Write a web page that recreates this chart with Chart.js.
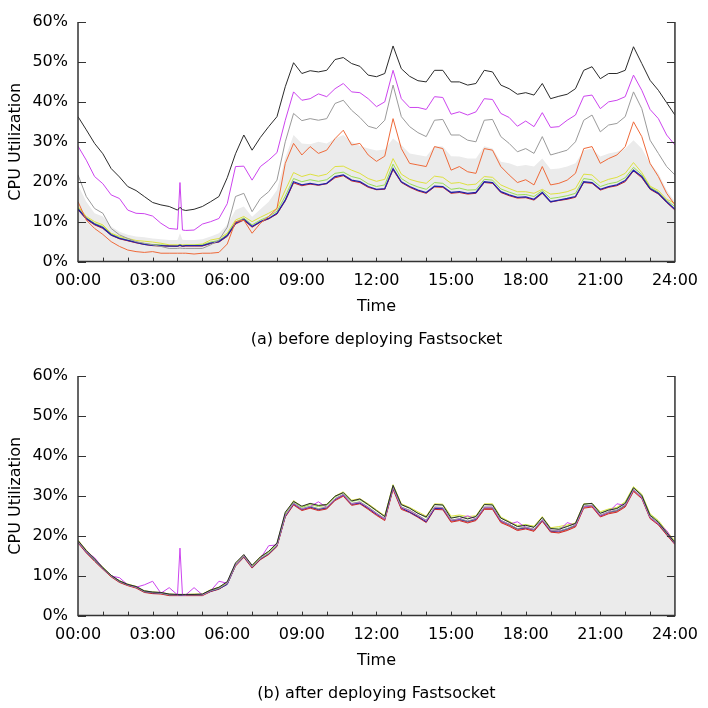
<!DOCTYPE html>
<html>
<head>
<meta charset="utf-8">
<script src="https://cdn.jsdelivr.net/npm/chart.js@4"></script>
<style>
  html, body { margin: 0; padding: 0; background: #fff; overflow: hidden; }
  canvas { display: block; }
</style>
</head>
<body>
<canvas id="chartA" width="708" height="354"></canvas>
<canvas id="chartB" width="708" height="354"></canvas>
<script>
/* time of day in minutes (20 min samples, extra samples around 04:06) */
const times = [0,20,40,60,80,100,120,140,160,180,200,220,240,246,252,260,280,300,320,340,360,380,400,420,440,460,480,500,520,540,560,580,600,620,640,660,680,700,720,740,760,780,800,820,840,860,880,900,920,940,960,980,1000,1020,1040,1060,1080,1100,1120,1140,1160,1180,1200,1220,1240,1260,1280,1300,1320,1340,1360,1380,1400,1420,1440];
const yTicks = [0, 10, 20, 30, 40, 50, 60];

/* (a) before deploying Fastsocket, CPU % per core */
const aFill = [19.2,15.0,12.1, 11.3,8.8,7.5, 6.7,6.3,6.1, 5.8,5.6,5.4, 5.4, 7.1,5.5, 5.4,5.4, 5.6,6.3,7.1, 9.2,12.9,13.8, 11.2,13.1,15.0, 17.9,26.0,31.7, 29.6,29.4,30.0, 29.6,30.8,31.7, 30.0,29.0,28.3, 27.8,28.1,30.8, 29.2,27.1,26.7, 26.3,28.9,28.8, 26.4,26.3,25.8, 25.8,28.9,28.3, 25.0,24.6,23.9, 24.2,23.8,25.8, 23.1,23.3,23.8, 24.6,27.9,28.3, 26.3,27.1,27.5, 28.3,30.4,28.3, 24.6,22.1,17.9, 15.0];
const aBlack = [36.3,33.0,29.6, 27.0,23.3,21.2, 18.8,17.8,16.3, 14.8,14.2,13.8, 12.9, 13.6,13.0, 12.8,13.1, 13.8,15.0,16.3, 21.0,27.0,31.7, 27.9,31.1,33.8, 36.3,43.8,49.8, 47.1,47.8,47.5, 47.9,50.6,51.1, 49.6,48.9,46.7, 46.3,47.1,54.0, 48.3,46.4,45.3, 45.0,47.9,47.9, 45.0,45.0,44.2, 44.6,47.9,47.5, 44.2,43.3,41.9, 42.3,41.7,44.6, 40.8,41.4,41.9, 43.3,47.9,48.8, 45.8,47.1,47.1, 47.9,53.8,49.6, 45.4,42.9,39.8, 36.7];
const aMagenta = [28.9,25.4,21.3, 19.5,16.7,15.8, 12.9,12.1,12.0, 11.4,9.6,8.3, 8.1, 19.8,7.9, 7.8,7.9, 9.4,10.0,10.8, 14.5,23.8,23.9, 20.4,23.8,25.4, 27.3,35.4,42.5, 40.4,40.8,42.0, 41.3,43.3,44.6, 42.5,42.3,40.8, 38.8,40.0,47.9, 40.8,38.6,38.6, 38.1,41.3,41.1, 36.9,37.5,36.7, 37.5,40.8,40.6, 37.1,36.1,33.9, 35.2,33.8,37.3, 33.6,33.8,35.4, 36.7,41.4,41.7, 38.3,40.0,40.4, 41.3,46.7,42.9, 38.1,35.8,31.7, 29.2];
const aGray = [21.7,16.3,13.3, 12.1,8.3,6.7, 5.8,5.0,4.6, 4.2,3.8,3.3, 3.3, 3.4,3.3, 3.3,3.3, 3.3,4.2,5.4, 8.6,16.3,17.1, 12.5,15.8,17.5, 20.4,30.0,37.1, 35.3,35.8,35.4, 35.8,39.6,40.4, 37.9,36.1,33.9, 33.3,35.4,44.2, 36.3,33.8,32.3, 31.3,35.4,35.6, 31.7,31.7,30.4, 30.0,35.4,35.6, 31.3,29.6,27.5, 28.3,27.1,31.3, 26.7,27.3,27.9, 30.0,35.4,36.7, 32.5,34.2,34.6, 36.3,42.5,38.3, 30.4,27.1,23.8, 21.7];
const aOrange = [15.0,10.4,8.3, 6.8,5.0,3.8, 2.9,2.5,2.3, 2.5,2.1,2.1, 2.1, 2.1,2.1, 2.1,1.9, 2.1,2.1,2.3, 4.4,10.0,10.4, 7.1,9.6,11.3, 13.3,24.6,29.6, 26.7,28.8,27.1, 27.9,30.8,32.9, 29.2,29.6,26.7, 25.1,26.4,35.8, 28.3,24.6,24.2, 23.8,28.8,28.3, 22.9,23.8,22.5, 22.1,28.3,27.9, 23.8,21.7,19.8, 20.5,19.2,23.8, 19.2,19.6,20.4, 22.1,28.3,28.8, 24.6,25.8,26.7, 28.8,35.0,31.3, 24.6,21.3,17.1, 14.2];
const aYellow = [13.8,11.3,10.0, 9.2,7.1,6.3, 5.8,5.3,5.1, 4.9,4.6,4.2, 4.2, 4.3,4.2, 4.2,4.2, 4.4,5.4,5.8, 7.1,10.4,11.3, 10.0,11.1,12.1, 13.3,17.9,22.3, 21.3,21.9,21.4, 21.9,23.8,23.9, 22.9,22.1,20.8, 20.1,20.6,25.8, 21.9,20.6,20.0, 19.6,21.4,21.1, 19.6,19.8,19.2, 19.4,21.3,21.1, 19.2,18.3,17.5, 17.5,17.1,18.1, 16.9,17.1,17.5, 18.3,21.9,21.7, 19.8,20.6,21.1, 22.1,24.8,22.3, 18.9,17.8,15.6, 14.6];
const aGreen = [13.4,11.0,9.6, 8.8,6.9,6.0, 5.4,4.9,4.5, 4.3,4.2,4.0, 4.0, 4.2,4.0, 4.1,4.1, 4.2,4.9,5.3, 6.8,9.9,10.9, 9.2,10.4,11.3, 12.6,16.4,20.8, 20.0,20.5,20.1, 20.5,22.1,22.4, 21.3,20.8,19.5, 18.8,19.2,24.4, 20.8,19.5,18.7, 18.1,19.8,19.6, 18.1,18.4,17.9, 18.0,20.6,20.4, 18.2,17.4,16.7, 16.8,16.3,17.8, 15.8,16.1,16.5, 17.1,20.8,20.5, 18.8,19.5,19.9, 21.0,23.6,21.8, 18.6,17.4,15.3, 13.8];
const aBlue = [13.2,10.8,9.4, 8.5,6.7,5.8, 5.3,4.8,4.3, 4.1,4.0,3.9, 3.9, 4.1,3.9, 4.0,4.0, 4.0,4.6,5.0, 6.5,9.6,10.6, 8.8,10.0,10.8, 12.1,15.4,20.0, 19.2,19.6,19.2, 19.6,21.3,21.7, 20.4,20.0,18.8, 18.1,18.3,23.3, 20.0,18.8,17.9, 17.3,18.9,18.8, 17.3,17.5,17.1, 17.3,20.0,19.8, 17.5,16.7,16.1, 16.2,15.6,17.3, 15.0,15.4,15.8, 16.3,20.0,19.8, 18.1,18.8,19.2, 20.3,22.9,21.3, 18.3,17.1,15.0, 13.1];
const aRed = [13.0,10.6,9.2, 8.3,6.6,5.7, 5.2,4.7,4.3, 4.0,3.9,3.9, 3.8, 4.0,3.8, 3.9,3.9, 3.9,4.5,4.9, 6.3,9.4,10.4, 8.6,9.9,10.7, 11.9,15.2,19.7, 19.0,19.4,19.1, 19.5,21.0,21.5, 20.2,19.8,18.6, 18.0,18.1,23.0, 19.8,18.6,17.7, 17.1,18.7,18.6, 17.1,17.3,16.9, 17.1,19.8,19.6, 17.3,16.5,15.9, 16.0,15.4,17.1, 14.9,15.3,15.6, 16.1,19.8,19.6, 17.9,18.6,19.0, 20.0,22.7,21.0, 18.1,16.9,14.8, 12.9];

/* (b) after deploying Fastsocket */
const bFill = [18.6,16.1,14.0, 11.9,10.0,8.6, 7.8,7.2,6.1, 5.8,5.7,5.3, 5.3, 5.2,5.2, 5.3,5.3, 5.3,6.3,6.9, 8.2,12.8,15.0, 12.3,14.4,15.7, 17.8,25.3,28.3, 26.9,27.5,26.9, 27.3,29.4,30.5, 28.2,28.6,27.3, 25.8,24.4,32.3, 27.3,26.5,25.3, 24.0,27.3,27.2, 24.0,24.4,23.8, 24.4,27.3,27.3, 24.0,23.0,21.9, 22.3,21.7,24.2, 21.5,21.3,21.9, 22.8,27.5,27.8, 25.3,26.1,26.5, 27.8,31.7,29.8, 24.8,23.2,20.7, 18.2];
const bBlack = [18.8,16.3,14.2, 12.0,10.1,8.7, 7.8,7.3,6.2, 5.9,5.8,5.4, 5.3, 5.3,5.3, 5.3,5.3, 5.4,6.4,7.1, 8.5,13.2,15.3, 12.6,14.7,16.1, 18.2,25.9,28.6, 27.4,28.1,27.6, 27.8,29.9,30.8, 28.7,29.2,27.8, 26.3,24.8,32.6, 27.8,26.9,25.6, 24.7,27.8,27.7, 24.4,24.8,24.2, 24.8,27.8,27.7, 24.4,23.4,22.3, 22.6,22.1,24.6, 21.8,21.6,22.3, 23.1,27.9,28.1, 25.6,26.4,26.8, 28.1,32.0,30.1, 25.1,23.4,20.8, 18.3];
const bYellow = [18.9,16.4,14.3, 12.2,10.1,8.7, 7.9,7.3,6.2, 5.9,5.8,5.4, 5.3, 5.3,5.3, 5.3,5.4, 5.4,6.5,7.1, 8.3,12.9,15.2, 12.5,14.8,16.0, 18.0,25.5,28.8, 27.3,28.0,27.5, 27.9,29.9,31.0, 28.9,29.3,28.0, 26.5,25.0,32.8, 28.0,27.1,26.0, 24.9,28.0,27.9, 24.9,25.2,24.8, 25.0,28.0,28.0, 24.7,23.6,22.6, 22.8,22.4,24.8, 22.0,22.3,22.7, 23.2,28.0,28.1, 26.0,26.7,27.1, 28.5,32.3,30.4, 25.5,23.8,21.2, 18.7];
const bGreen = [18.7,16.2,14.1, 12.1,10.1,8.7, 7.9,7.2,6.2, 5.9,5.7,5.3, 5.3, 5.2,5.2, 5.3,5.3, 5.3,6.4,7.0, 8.3,12.9,15.1, 12.4,14.6,15.9, 18.0,25.5,28.5, 27.1,27.8,27.3, 27.6,29.7,30.8, 28.6,29.0,27.7, 26.2,24.8,32.6, 27.7,26.9,25.7, 24.5,27.8,27.7, 24.5,24.9,24.4, 24.8,27.8,27.8, 24.5,23.4,22.4, 22.7,22.2,24.6, 21.8,21.9,22.4, 23.0,27.9,28.1, 25.7,26.5,26.9, 28.3,32.1,30.2, 25.3,23.6,21.0, 18.5];
const bGray = [18.5,16.0,13.9, 11.8,9.9,8.5, 7.7,7.1,6.0, 5.8,5.6,5.2, 5.2, 5.2,5.2, 5.2,5.2, 5.2,6.2,6.8, 8.1,12.6,14.9, 12.2,14.3,15.6, 17.6,25.1,28.2, 26.8,27.4,26.8, 27.2,29.3,30.4, 28.1,28.5,27.2, 25.7,24.3,32.2, 27.2,26.4,25.1, 23.9,27.2,27.1, 23.9,24.3,23.7, 24.3,27.2,27.2, 23.9,22.9,21.8, 22.2,21.6,24.1, 21.4,21.2,21.8, 22.7,27.4,27.7, 25.2,26.0,26.4, 27.7,31.6,29.7, 24.7,23.1,20.6, 18.1];
const bBlue = [18.4,15.9,13.8, 11.8,9.9,8.5, 7.7,7.1,6.0, 5.7,5.6,5.2, 5.2, 5.1,5.1, 5.2,5.2, 5.2,6.1,6.7, 7.8,12.6,14.8, 12.1,14.2,15.5, 17.5,24.9,28.0, 26.6,27.2,26.6, 27.0,29.1,30.2, 27.9,28.2,26.9, 25.4,24.2,32.0, 27.0,25.9,24.8, 23.5,26.8,26.8, 23.8,24.1,23.6, 24.1,27.0,27.0, 23.7,22.8,21.7, 22.0,21.5,23.9, 21.2,21.1,21.7, 22.6,27.3,27.6, 25.0,25.9,26.3, 27.6,31.5,29.6, 24.6,23.0,20.5, 18.0];
const bOrange = [18.3,15.8,13.7, 11.7,9.8,8.4, 7.6,7.0,5.9, 5.6,5.5,5.1, 5.1, 5.1,5.1, 5.1,5.1, 5.1,6.1,6.7, 8.0,12.5,14.7, 12.0,14.1,15.4, 17.4,24.8,27.9, 26.5,27.1,26.5, 26.9,29.0,30.1, 27.8,28.2,26.8, 25.3,24.0,31.8, 26.8,26.0,24.8, 23.5,26.8,26.7, 23.6,24.0,23.4, 24.0,26.8,26.8, 23.5,22.6,21.5, 21.9,21.3,23.8, 21.1,20.9,21.5, 22.4,27.1,27.4, 24.9,25.7,26.1, 27.4,31.3,29.5, 24.5,22.9,20.4, 17.9];
const bRed = [18.2,15.7,13.6, 11.6,9.7,8.3, 7.5,6.9,5.8, 5.5,5.4,5.0, 5.0, 5.0,5.0, 5.0,5.0, 5.0,6.0,6.6, 7.9,12.4,14.6, 11.9,14.0,15.3, 17.3,24.7,27.7, 26.3,26.9,26.3, 26.7,28.8,29.9, 27.6,28.0,26.6, 25.1,23.8,31.6, 26.6,25.8,24.6, 23.3,26.6,26.5, 23.4,23.8,23.2, 23.8,26.6,26.6, 23.3,22.4,21.3, 21.7,21.1,23.6, 20.9,20.7,21.3, 22.2,26.9,27.2, 24.7,25.5,25.9, 27.2,31.1,29.3, 24.3,22.7,20.2, 17.8];
const bMagenta = [18.5,16.0,14.5, 11.9,9.9,9.5, 7.7,7.1,7.7, 8.6,5.6,7.0, 5.2, 16.9,5.2, 5.2,7.0, 5.2,6.2,8.6, 8.1,12.7,15.0, 12.2,14.3,17.5, 17.7,25.1,28.1, 26.7,27.3,28.5, 27.1,29.2,30.3, 28.0,28.4,27.1, 25.6,24.2,32.1, 27.1,26.3,25.1, 23.8,27.1,27.0, 23.9,24.2,25.0, 24.2,27.1,27.1, 23.8,22.9,23.5, 22.1,21.6,24.0, 21.4,21.2,23.3, 22.6,27.3,27.6, 25.1,25.9,28.0, 27.6,31.5,29.6, 24.6,23.0,21.3, 18.0];

const colors = {
    black: "#2b2b2b", magenta: "#cc44ee", gray: "#9a9a9a", orange: "#ee6a3a",
    yellow: "#dde040", green: "#99dd55", blue: "#2222aa", red: "#d02828", fill: "#ebebeb"
};

Chart.defaults.font.family = "'DejaVu Sans', sans-serif";
Chart.defaults.font.size = 16;
Chart.defaults.color = "#000";

function pts(values){
    return times.map((t, i) => ({x: t, y: values[i]}));
}

function line(values, color, width){
    return {
        data: pts(values), borderColor: color, borderWidth: width || 1,
        pointRadius: 0, fill: false, tension: 0
    };
}

/* frame on left, bottom, right with inward ticks, plus the caption under the axis */
const framePlugin = {
    id: "frame",
    afterDatasetsDraw(chart, args, opts){
        const {ctx, chartArea: a, scales} = chart;
        ctx.save();
        ctx.strokeStyle = "#333";
        ctx.lineWidth = 1.5;
        ctx.beginPath();
        ctx.moveTo(a.left, a.top);
        ctx.lineTo(a.left, a.bottom);
        ctx.lineTo(a.right, a.bottom);
        ctx.lineTo(a.right, a.top);
        ctx.stroke();
        ctx.lineWidth = 1;
        ctx.beginPath();
        yTicks.forEach(v => {
            const y = Math.round(scales.y.getPixelForValue(v)) + 0.5;
            ctx.moveTo(a.left, y); ctx.lineTo(a.left + 8, y);
            ctx.moveTo(a.right, y); ctx.lineTo(a.right - 8, y);
        });
        for (let m = 60; m < 1440; m += 60){
            const x = Math.round(scales.x.getPixelForValue(m)) + 0.5;
            ctx.moveTo(x, a.bottom); ctx.lineTo(x, a.bottom - 4);
        }
        ctx.stroke();
        // caption centred on the plot area
        ctx.fillStyle = "#000";
        ctx.font = "16px 'DejaVu Sans', sans-serif";
        ctx.textAlign = "center";
        ctx.textBaseline = "middle";
        ctx.fillText(opts.caption, (a.left + a.right) / 2, 340);
        ctx.restore();
    }
};

function makeChart(id, fillValues, lines, caption){
    // lower order is drawn on top: fill at the bottom, later lines above earlier ones
    lines.forEach((d, i) => { d.order = lines.length - i; });
    const datasets = [{
        data: pts(fillValues), borderWidth: 0, pointRadius: 0, order: 100,
        backgroundColor: colors.fill, fill: "origin", tension: 0
    }].concat(lines);
    return new Chart(document.getElementById(id), {
        type: "line",
        data: {datasets: datasets},
        options: {
            responsive: false,
            animation: false,
            devicePixelRatio: 1,
            layout: {padding: {top: 22, right: 31, left: 0, bottom: 37.4}},
            plugins: {
                legend: {display: false},
                tooltip: {enabled: false},
                title: {display: false},
                frame: {caption: caption}
            },
            scales: {
                x: {
                    type: "linear", min: 0, max: 1440,
                    grid: {display: false, drawTicks: false},
                    border: {display: false},
                    ticks: {
                        stepSize: 180, padding: 10, maxRotation: 0, autoSkip: false,
                        callback: v => String(v / 60).padStart(2, "0") + ":00"
                    },
                    title: {display: true, text: "Time", padding: {top: 0, bottom: 0}},
                    afterFit: s => { s.height = 55; }
                },
                y: {
                    min: 0, max: 60,
                    grid: {display: false, drawTicks: false},
                    border: {display: false},
                    ticks: {stepSize: 10, padding: 10, callback: v => v + "%"},
                    title: {display: true, text: "CPU Utilization", padding: {top: 6.4, bottom: 0}},
                    afterFit: s => { s.width = 78; }
                }
            }
        },
        plugins: [framePlugin]
    });
}

makeChart("chartA", aFill, [
    line(aYellow, colors.yellow),
    line(aGreen, colors.green),
    line(aRed, colors.red),
    line(aBlue, colors.blue, 1.3),
    line(aOrange, colors.orange),
    line(aGray, colors.gray),
    line(aMagenta, colors.magenta),
    line(aBlack, colors.black)
], "(a) before deploying Fastsocket");

makeChart("chartB", bFill, [
    line(bYellow, colors.yellow),
    line(bGreen, colors.green),
    line(bOrange, colors.orange),
    line(bRed, colors.red),
    line(bBlue, colors.blue),
    line(bMagenta, colors.magenta),
    line(bGray, colors.gray),
    line(bBlack, colors.black)
], "(b) after deploying Fastsocket");
</script>
</body>
</html>
